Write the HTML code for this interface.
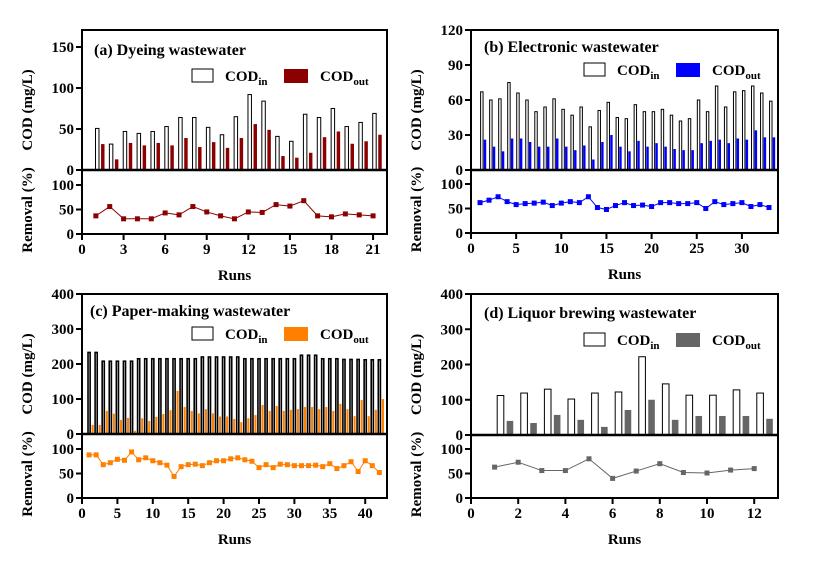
<!DOCTYPE html>
<html><head><meta charset="utf-8"><style>
body{margin:0;background:#fff;}
svg text{font-family:"Liberation Serif",serif;font-weight:bold;fill:#000;}
</style></head><body>
<svg id="s" width="827" height="568" viewBox="0 0 827 568" xmlns="http://www.w3.org/2000/svg"></svg>
<script>
var P=[
{x0:82,xs:13.86,xr:387,top:30,u0:170,ups:123/150,ut:[0,50,100,150],l0:234,lps:0.49,xt:[0,3,6,9,12,15,18,21],
 col:'#8b0000',title:'(a) Dyeing wastewater',tx:94,ty:55,lg:[192,69],bw:0.25,io:0.1,oo:0.5,sw:1,
 inn:[50.7,31.6,47,44.6,47,53,64,64,52,43,65,92,84,41,35,68,64,75,53,58,69],
 out:[31.6,13,33,30,33,30,39,28,34,27,39,56,49,17,15,21,40,47,32,35,43],
 rem:[37,56,31,31,31,43,39,56,45,37,31,45,44,60,57,68,37,35,41,39,37]},
{x0:471,xs:9.03,xr:778,top:30,u0:170,ups:140/120,ut:[0,30,60,90,120],l0:233,lps:0.49,xt:[0,5,10,15,20,25,30],
 col:'#0000ff',title:'(b) Electronic wastewater',tx:484,ty:52,lg:[584,63],bw:0.27,io:0.2,oo:0.55,sw:1,
 inn:[67,60,61,75,66,60,50,54,61,52,47,54,37,51,58,45,44,56,50,50,52,47,42,44,60,50,72,54,67,68,72,66,59],
 out:[26,20,16,27,27,24,20,20,27,20,17,21,9,24,30,20,16,25,20,23,20,18,17,17,23,25,26,23,27,26,34,28,28],
 rem:[62,67,74,64,58,60,61,63,56,61,64,62,74,52,48,56,62,56,57,54,62,62,60,60,62,50,64,58,60,62,54,58,52]},
{x0:82,xs:7.08,xr:387,top:294,u0:434,ups:140/400,ut:[0,100,200,300,400],l0:498,lps:0.49,xt:[0,5,10,15,20,25,30,35,40],
 col:'#ff8000',title:'(c) Paper-making wastewater',tx:90,ty:316,lg:[192,327],bw:0.3,io:0.0,oo:0.5,sw:1.6,
 inn:[233,233,208,208,208,208,208,215,215,215,215,215,215,215,215,215,220,220,220,220,220,220,215,215,215,215,215,215,215,215,225,225,225,215,215,215,213,213,213,212,212,212],
 out:[26,26,66,58,40,46,9,45,37,49,57,68,123,77,66,59,71,59,50,50,43,34,45,54,83,66,80,66,69,71,77,77,71,77,66,86,71,51,97,51,69,100],
 rem:[88,88,68,72,79,77,94,78,82,76,72,67,44,64,68,69,66,72,76,76,80,82,78,75,62,68,62,69,68,66,66,66,67,64,70,60,66,74,54,76,66,52]},
{x0:471,xs:23.6,xr:778,top:294,u0:435,ups:141/400,ut:[0,100,200,300,400],l0:498,lps:0.49,xt:[0,2,4,6,8,10,12],
 col:'#666666',title:'(d) Liquor brewing wastewater',tx:484,ty:318,lg:[584,333],bw:0.28,io:0.25,oo:0.65,sw:1,
 inn:[112,119,130,102,119,122,222,145,113,113,128,119],
 out:[40,34,57,43,23,71,100,43,54,54,54,46],
 rem:[63,73,56,56,80,40,55,70,52,51,57,60]}
];
var h='';
P.forEach(function(p){
 var X=function(v){return p.x0+v*p.xs;};
 var bw=p.bw*p.xs;
 p.inn.forEach(function(v,i){var r=i+1;var cx=X(r+p.io);var y=p.u0-v*p.ups;
  h+='<rect x="'+(cx-bw/2)+'" y="'+y+'" width="'+bw+'" height="'+(p.u0-y)+'" fill="#fff" stroke="#000" stroke-width="'+p.sw+'"/>';});
 p.out.forEach(function(v,i){var r=i+1;var cx=X(r+p.oo);var y=p.u0-v*p.ups;
  h+='<rect x="'+(cx-bw/2)+'" y="'+y+'" width="'+bw+'" height="'+(p.u0-y)+'" fill="'+p.col+'"/>';});
 var pts=p.rem.map(function(v,i){return X(i+1)+','+(p.l0-v*p.lps);}).join(' ');
 h+='<polyline points="'+pts+'" fill="none" stroke="'+p.col+'" stroke-width="1"/>';
 p.rem.forEach(function(v,i){h+='<rect x="'+(X(i+1)-2.5)+'" y="'+(p.l0-v*p.lps-2.5)+'" width="5" height="5" fill="'+p.col+'"/>';});
 h+='<rect x="'+p.x0+'" y="'+p.top+'" width="'+(p.xr-p.x0)+'" height="'+(p.l0-p.top)+'" fill="none" stroke="#000" stroke-width="2"/>';
 h+='<line x1="'+p.x0+'" y1="'+p.u0+'" x2="'+p.xr+'" y2="'+p.u0+'" stroke="#000" stroke-width="2.5"/>';
 p.ut.forEach(function(t){var y=p.u0-t*p.ups;
  h+='<line x1="'+(p.x0-6)+'" y1="'+y+'" x2="'+p.x0+'" y2="'+y+'" stroke="#000" stroke-width="2"/>';
  h+='<text x="'+(p.x0-8)+'" y="'+(y+5)+'" font-size="15" text-anchor="end">'+t+'</text>';});
 [0,50,100].forEach(function(t){var y=p.l0-t*p.lps;
  h+='<line x1="'+(p.x0-6)+'" y1="'+y+'" x2="'+p.x0+'" y2="'+y+'" stroke="#000" stroke-width="2"/>';
  h+='<text x="'+(p.x0-8)+'" y="'+(y+5)+'" font-size="15" text-anchor="end">'+t+'</text>';});
 p.xt.forEach(function(t){var x=X(t);
  h+='<line x1="'+x+'" y1="'+p.l0+'" x2="'+x+'" y2="'+(p.l0+6)+'" stroke="#000" stroke-width="2"/>';
  h+='<text x="'+x+'" y="'+(p.l0+20)+'" font-size="15" text-anchor="middle">'+t+'</text>';});
 h+='<text x="'+((p.x0+p.xr)/2)+'" y="'+(p.l0+46)+'" font-size="15" text-anchor="middle">Runs</text>';
 var lx=p.x0-50;
 h+='<text transform="translate('+lx+','+((p.top+p.u0)/2+10)+') rotate(-90)" font-size="15" text-anchor="middle">COD (mg/L)</text>';
 h+='<text transform="translate('+lx+','+((p.u0+p.l0)/2+8)+') rotate(-90)" font-size="15" text-anchor="middle">Removal (%)</text>';
 h+='<text x="'+p.tx+'" y="'+p.ty+'" font-size="16">'+p.title+'</text>';
 var lx0=p.lg[0],ly=p.lg[1];
 h+='<rect x="'+lx0+'" y="'+ly+'" width="21" height="13" fill="#fff" stroke="#000" stroke-width="1"/>';
 h+='<text x="'+(lx0+33)+'" y="'+(ly+12)+'" font-size="15">COD<tspan font-size="11" dy="4">in</tspan></text>';
 h+='<rect x="'+(lx0+92)+'" y="'+ly+'" width="24" height="14" fill="'+p.col+'"/>';
 h+='<text x="'+(lx0+128)+'" y="'+(ly+12)+'" font-size="15">COD<tspan font-size="11" dy="4">out</tspan></text>';
});
document.getElementById('s').innerHTML=h;
</script>
</body></html>
